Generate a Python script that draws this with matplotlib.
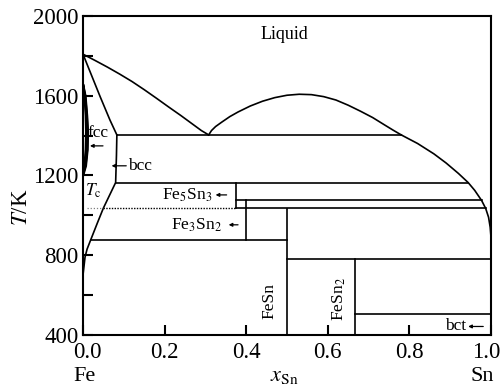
import matplotlib
matplotlib.use("Agg")
import matplotlib.pyplot as plt
from matplotlib.transforms import ScaledTranslation

plt.rcParams["font.family"] = ["Liberation Serif", "DejaVu Serif"]
plt.rcParams["mathtext.fontset"] = "stix"

# Liquidus on the Fe side, down to the monotectic
liq_left_x = [0, 0.03, 0.06, 0.09, 0.12, 0.15, 0.18, 0.21, 0.24, 0.27, 0.29, 0.308]
liq_left_T = [1808, 1776, 1743, 1708, 1671, 1630, 1587, 1543, 1500, 1455, 1425, 1403]

# Liquid miscibility gap
dome_x = [0.308, 0.315, 0.325, 0.34, 0.36, 0.38, 0.41, 0.44, 0.47, 0.50,
          0.53, 0.56, 0.59, 0.62, 0.65, 0.68, 0.71, 0.74, 0.76, 0.78]
dome_T = [1403, 1425, 1445, 1467, 1495, 1518, 1548, 1572, 1590, 1602,
          1607, 1605, 1595, 1578, 1552, 1522, 1490, 1452, 1427, 1403]

# Liquidus on the Sn side
liq_right_x = [0.78, 0.82, 0.86, 0.89, 0.92, 0.944, 0.96, 0.977, 0.987, 0.994, 0.998, 1.0, 1.0]
liq_right_T = [1403, 1360, 1308, 1262, 1210, 1164, 1125, 1074, 1034, 990, 940, 890, 505]

# bcc solidus and solvus
bcc_sol_x = [0, 0.042, 0.066, 0.083]
bcc_sol_T = [1808, 1595, 1478, 1403]
bcc_solv_x = [0.083, 0.082, 0.080, 0.065, 0.050, 0.035, 0.019, 0.010, 0.005, 0.0]
bcc_solv_T = [1403, 1300, 1164, 1100, 1036, 960, 877, 830, 790, 700]

# gamma loop
fcc_T = [1660, 1600, 1500, 1420, 1330, 1250, 1200]
fcc_outer_x = [0, 0.006, 0.010, 0.012, 0.011, 0.007, 0]
fcc_inner_x = [0, 0.003, 0.006, 0.007, 0.006, 0.003, 0]

# invariant lines: (x start, x end, T)
hlines = [
    (0.083, 0.78, 1403),
    (0.080, 0.944, 1164),
    (0.375, 0.977, 1074),
    (0.375, 0.987, 1034),
    (0.019, 0.50, 877),
    (0.50, 1.0, 780),
    (0.667, 1.0, 505),
]
# compound lines: (x, T low, T high)
vlines = [
    (0.375, 1036, 1164),
    (0.40, 877, 1074),
    (0.50, 400, 1030),
    (0.667, 400, 780),
]
Tc = 1038

fig = plt.figure(figsize=(5, 3.88), dpi=100)
ax = fig.add_axes([0.166, 0.137, 0.816, 0.822])

lw = 1.2
ax.plot(liq_left_x, liq_left_T, color="black", lw=lw)
ax.plot(dome_x, dome_T, color="black", lw=lw)
ax.plot(liq_right_x, liq_right_T, color="black", lw=lw)
ax.plot(bcc_sol_x, bcc_sol_T, color="black", lw=lw)
ax.plot(bcc_solv_x, bcc_solv_T, color="black", lw=lw)
ax.plot(fcc_outer_x, fcc_T, color="black", lw=lw)
ax.plot(fcc_inner_x, fcc_T, color="black", lw=lw)
ax.fill_betweenx(fcc_T, fcc_inner_x, fcc_outer_x, color="black")

for x0, x1, T in hlines:
    ax.plot([x0, x1], [T, T], color="black", lw=lw)
for x, T0, T1 in vlines:
    ax.plot([x, x], [T0, T1], color="black", lw=lw)

# Curie temperature
ax.plot([0.01, 0.05], [Tc, Tc], color="gray", lw=0.9, linestyle=(0, (1, 1.5)))
ax.plot([0.05, 0.375], [Tc, Tc], color="black", lw=1.0, linestyle=(0, (1, 1)))

fs = 12.5
ax.text(0.494, 1905, "Liquid", fontsize=13, ha="center", va="center")
ax.text(0.012, 1412, "fcc", fontsize=fs, ha="left", va="center")
ax.text(0.11, 1248, "bcc", fontsize=fs, ha="left", va="center")
ax.text(0.005, 1125, r"$T_{\mathrm{c}}$", fontsize=fs, ha="left", va="center")
ax.text(0.255, 1102, r"Fe$_5$Sn$_3$", fontsize=fs, ha="center", va="center")
ax.text(0.277, 952, r"Fe$_3$Sn$_2$", fontsize=fs, ha="center", va="center")
ax.text(0.456, 571, "FeSn", fontsize=fs, ha="center", va="center", rotation=90)
ax.text(0.628, 581, r"FeSn$_2$", fontsize=fs, ha="center", va="center", rotation=90)
ax.text(0.913, 442, "bct", fontsize=fs, ha="center", va="center")

arrows = [
    (0.017, 0.049, 1348),
    (0.070, 0.106, 1248),
    (0.325, 0.352, 1102),
    (0.357, 0.380, 952),
    (0.944, 0.981, 442),
]
for xa, xb, T in arrows:
    ax.annotate("", xy=(xa, T), xytext=(xb, T),
                arrowprops=dict(arrowstyle="-|>", lw=0.9, color="black",
                                mutation_scale=5, shrinkA=0, shrinkB=0))

ax.set_xlim(0, 1)
ax.set_ylim(400, 2000)
ax.set_xticks([0, 0.2, 0.4, 0.6, 0.8, 1.0])
ax.set_xticklabels(["0.0", "0.2", "0.4", "0.6", "0.8", "1.0"])
ax.set_yticks([400, 800, 1200, 1600, 2000])
ax.set_yticks(range(400, 2001, 200), minor=True)
ax.tick_params(which="both", direction="in", length=7, width=1.5, labelsize=16.5)
ax.tick_params(axis="x", pad=5)
ax.tick_params(axis="y", pad=3)
for s in ax.spines.values():
    s.set_linewidth(1.5)

# nudge the end labels inwards, as in the original figure
xl = ax.get_xticklabels()
xl[0].set_transform(xl[0].get_transform() + ScaledTranslation(4 / 100, 0, fig.dpi_scale_trans))
xl[-1].set_transform(xl[-1].get_transform() + ScaledTranslation(-5 / 100, 0, fig.dpi_scale_trans))

ax.set_ylabel(r"$T$/K", fontsize=16.5)
ax.yaxis.set_label_coords(-0.125, 0.40)

# bottom row: Fe ... x_Sn ... Sn
fig.text(0.568, 0.004, r"$x_{\mathrm{Sn}}$", fontsize=16, ha="center", va="bottom")
fig.text(0.168, 0.004, "Fe", fontsize=16, ha="center", va="bottom")
fig.text(0.964, 0.004, "Sn", fontsize=16, ha="center", va="bottom")

fig.savefig("out.png", dpi=100)
